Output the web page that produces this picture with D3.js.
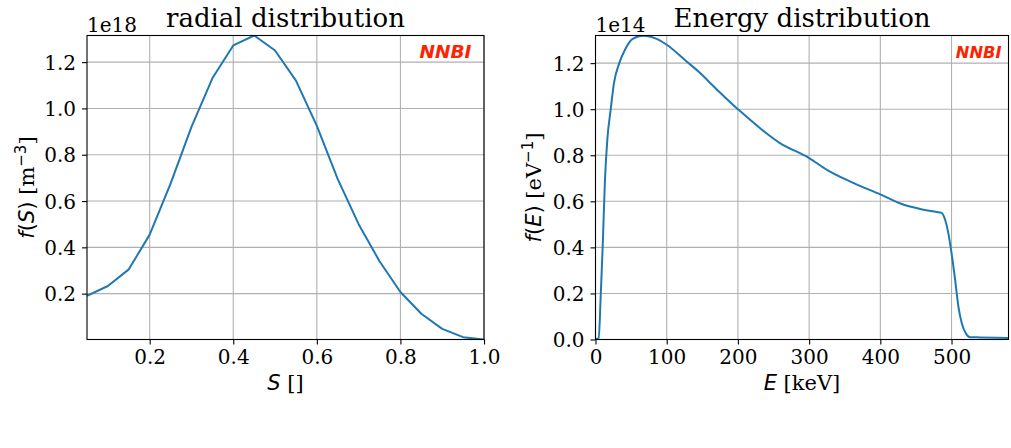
<!DOCTYPE html>
<html>
<head>
<meta charset="utf-8">
<script src="https://cdn.jsdelivr.net/npm/d3@7"></script>
<style>
  body { margin: 0; background: #fff; }
  svg { display: block; }
</style>
</head>
<body>
<div id="chart"></div>
<script>
// radial distribution, S = 0.05 .. 1.0 (values in units of 1e18 m^-3)
var sValues = [0.05, 0.10, 0.15, 0.20, 0.25, 0.30, 0.35, 0.40, 0.45, 0.50,
               0.55, 0.60, 0.65, 0.70, 0.75, 0.80, 0.85, 0.90, 0.95, 1.00];
var fsValues = [0.190, 0.233, 0.305, 0.455, 0.675, 0.920, 1.130, 1.272, 1.315, 1.250,
                1.120, 0.925, 0.695, 0.500, 0.340, 0.207, 0.113, 0.048, 0.012, 0.002];

// energy distribution (keV, values in units of 1e14 eV^-1)
var eValues = [0, 4.5, 7.3, 10.1, 13.3, 16.6, 21.3, 26, 33.4, 41.4,
               52.2, 67, 86, 100, 128, 147, 161, 200, 259, 300,
               325, 357, 400, 432, 456, 479, 486, 491, 495.5, 500,
               505, 509.6, 514.3, 520.4, 526, 540, 580];
var feValues = [0.003, 0.004, 0.188, 0.405, 0.694, 0.868, 0.998, 1.114, 1.200, 1.258,
                1.305, 1.319, 1.305, 1.280, 1.207, 1.157, 1.114, 1.000, 0.853, 0.788,
                0.737, 0.687, 0.630, 0.586, 0.567, 0.554, 0.550, 0.520, 0.462, 0.375,
                0.260, 0.144, 0.072, 0.025, 0.010, 0.009, 0.006];

var sTicks = [0.2, 0.4, 0.6, 0.8, 1.0];
var fsTicks = [0.2, 0.4, 0.6, 0.8, 1.0, 1.2];
var eTicks = [0, 100, 200, 300, 400, 500];
var feTicks = [0.0, 0.2, 0.4, 0.6, 0.8, 1.0, 1.2];

var width = 1011;
var height = 448;
var serif = "'DejaVu Serif', serif";
var sans = "'DejaVu Sans', sans-serif";

var svg = d3.select("#chart")
            .append("svg")
            .attr("width", width)
            .attr("height", height);

function drawPanel(cfg) {
    var x = d3.scaleLinear().domain(cfg.xDomain).range([cfg.left, cfg.right]);
    var y = d3.scaleLinear().domain(cfg.yDomain).range([cfg.bottom, cfg.top]);

    var g = svg.append("g");

    // grid
    g.append("g")
     .selectAll("line")
     .data(cfg.xTicks)
     .join("line")
     .attr("x1", d => x(d)).attr("x2", d => x(d))
     .attr("y1", cfg.top).attr("y2", cfg.bottom)
     .attr("stroke", "#b0b0b0").attr("stroke-width", 1.1);
    g.append("g")
     .selectAll("line")
     .data(cfg.yTicks)
     .join("line")
     .attr("y1", d => y(d)).attr("y2", d => y(d))
     .attr("x1", cfg.left).attr("x2", cfg.right)
     .attr("stroke", "#b0b0b0").attr("stroke-width", 1.1);

    // line
    g.append("clipPath")
     .attr("id", cfg.id + "-clip")
     .append("rect")
     .attr("x", cfg.left).attr("y", cfg.top)
     .attr("width", cfg.right - cfg.left).attr("height", cfg.bottom - cfg.top);

    var pts = cfg.xs.map((v, i) => [v, cfg.ys[i]]);
    g.append("path")
     .datum(pts)
     .attr("clip-path", "url(#" + cfg.id + "-clip)")
     .attr("fill", "none")
     .attr("stroke", "#1f77b4")
     .attr("stroke-width", 2)
     .attr("stroke-linejoin", "round")
     .attr("d", d3.line().x(d => x(d[0])).y(d => y(d[1])).curve(cfg.curve));

    // axes
    var xAxis = d3.axisBottom(x).tickValues(cfg.xTicks).tickFormat(cfg.xFormat)
                  .tickSizeOuter(0).tickSizeInner(5).tickPadding(5);
    var yAxis = d3.axisLeft(y).tickValues(cfg.yTicks).tickFormat(d3.format(".1f"))
                  .tickSizeOuter(0).tickSizeInner(5).tickPadding(6);

    var gx = g.append("g").attr("transform", `translate(0,${cfg.bottom})`).call(xAxis);
    var gy = g.append("g").attr("transform", `translate(${cfg.left},0)`).call(yAxis);
    [gx, gy].forEach(a => {
        a.select(".domain").remove();
        a.selectAll("line").attr("stroke", "#000").attr("stroke-width", 1.1);
        a.selectAll("text").attr("fill", "#000")
         .style("font-family", serif).style("font-size", "20px");
    });
    gx.selectAll("text").attr("dy", "0.74em");
    gy.selectAll("text").attr("dy", "0.36em");

    // frame
    g.append("rect")
     .attr("x", cfg.left).attr("y", cfg.top)
     .attr("width", cfg.right - cfg.left).attr("height", cfg.bottom - cfg.top)
     .attr("fill", "none").attr("stroke", "#000").attr("stroke-width", 1.1);

    // title
    g.append("text")
     .attr("x", (cfg.left + cfg.right) / 2).attr("y", 26.5)
     .attr("text-anchor", "middle")
     .style("font-family", serif).style("font-size", "26px")
     .text(cfg.title);

    // offset text
    g.append("text")
     .attr("x", cfg.left).attr("y", 31.5)
     .style("font-family", serif).style("font-size", "20px")
     .text(cfg.offset);

    // NNBI tag
    g.append("text")
     .attr("x", cfg.tagX).attr("y", cfg.tagY)
     .attr("text-anchor", "end")
     .style("font-family", sans)
     .style("font-size", cfg.tagSize + "px").style("font-weight", "bold").style("font-style", "italic")
     .attr("fill", "#ff2200")
     .text("NNBI");

    // x label
    var xl = g.append("text")
              .attr("x", (cfg.left + cfg.right) / 2).attr("y", 389.5)
              .attr("text-anchor", "middle")
              .style("font-size", "21px");
    xl.append("tspan").style("font-family", sans).style("font-style", "italic").text(cfg.xVar);
    xl.append("tspan").style("font-family", serif).text(" " + cfg.xUnit);

    // y label
    var yl = g.append("text")
              .attr("transform", `translate(${cfg.ylabelX},${(cfg.top + cfg.bottom) / 2}) rotate(-90)`)
              .attr("text-anchor", "middle")
              .style("font-size", "21px");
    yl.append("tspan").style("font-family", sans).style("font-style", "italic").text("f");
    yl.append("tspan").style("font-family", sans).text("(");
    yl.append("tspan").style("font-family", sans).style("font-style", "italic").text(cfg.xVar);
    yl.append("tspan").style("font-family", sans).text(")");
    yl.append("tspan").style("font-family", serif).text(" [" + cfg.yUnit);
    yl.append("tspan").style("font-family", sans).style("font-size", "15px")
      .attr("dy", "-8").text(cfg.yExp);
    yl.append("tspan").style("font-family", serif).attr("dy", "8").text("]");
}

drawPanel({
    id: "rad",
    left: 87, right: 484, top: 35.5, bottom: 339.5,
    xDomain: d3.extent(sValues), yDomain: d3.extent(fsValues),
    xs: sValues, ys: fsValues,
    xTicks: sTicks, yTicks: fsTicks,
    xFormat: d3.format(".1f"),
    curve: d3.curveLinear,
    title: "radial distribution", offset: "1e18",
    tagX: 471.5, tagY: 57.5, tagSize: 18.5,
    xVar: "S", xUnit: "[]", yUnit: "m", yExp: "\u22123",
    ylabelX: 34
});

drawPanel({
    id: "ene",
    left: 595.5, right: 1008.5, top: 35.5, bottom: 339.5,
    xDomain: [0, 580], yDomain: [0, 1.32],
    xs: eValues, ys: feValues,
    xTicks: eTicks, yTicks: feTicks,
    xFormat: d3.format("d"),
    curve: d3.curveMonotoneX,
    title: "Energy distribution", offset: "1e14",
    tagX: 1001.5, tagY: 58, tagSize: 16.3,
    xVar: "E", xUnit: "[keV]", yUnit: "eV", yExp: "\u22121",
    ylabelX: 541
});
</script>
</body>
</html>
